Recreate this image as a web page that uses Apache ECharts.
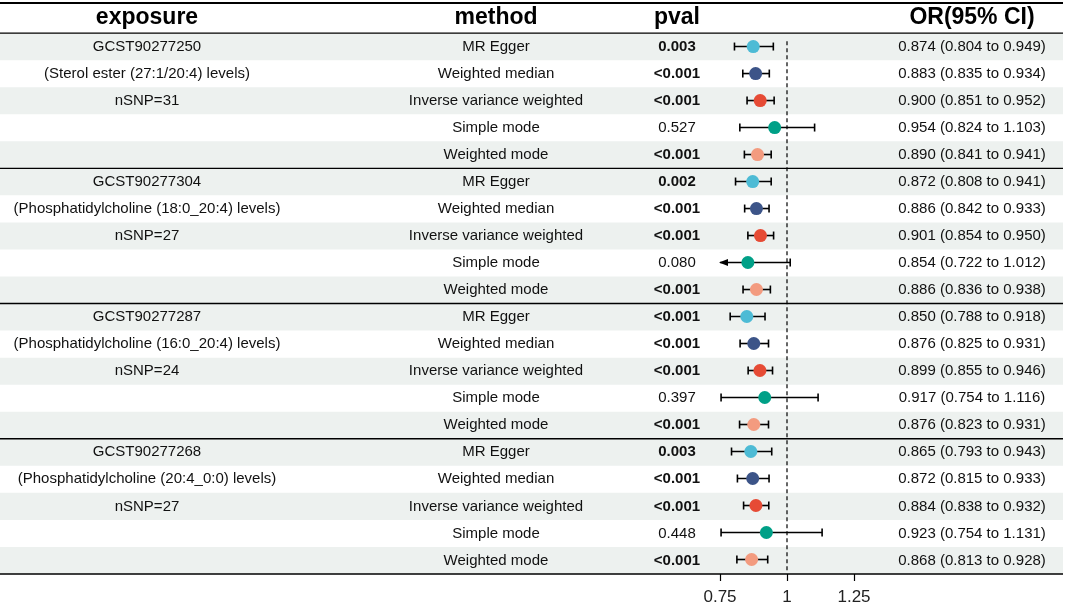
<!DOCTYPE html>
<html>
<head>
<meta charset="utf-8">
<script src="https://cdn.jsdelivr.net/npm/echarts@6/dist/echarts.min.js"></script>
<style>
  html, body { margin: 0; padding: 0; background: #fff; }
  #chart { width: 1065px; height: 606px; }
</style>
</head>
<body>
<div id="chart"></div>
<script>
// ---- data ----
var headers = ['exposure', 'method', 'pval', 'OR(95% CI)'];
var exposureIds = ['GCST90277250', 'GCST90277304', 'GCST90277287', 'GCST90277268'];
var exposureNames = [
  '(Sterol ester (27:1/20:4) levels)',
  '(Phosphatidylcholine (18:0_20:4) levels)',
  '(Phosphatidylcholine (16:0_20:4) levels)',
  '(Phosphatidylcholine (20:4_0:0) levels)'
];
var nSNP = [31, 27, 24, 27];
var methods = ['MR Egger', 'Weighted median', 'Inverse variance weighted', 'Simple mode', 'Weighted mode'];
var methodColors = ['#4DBBD5', '#3C5488', '#E64B35', '#00A087', '#F39B7F'];

var orValues = [
  0.874, 0.883, 0.900, 0.954, 0.890,
  0.872, 0.886, 0.901, 0.854, 0.886,
  0.850, 0.876, 0.899, 0.917, 0.876,
  0.865, 0.872, 0.884, 0.923, 0.868
];
var ciLower = [
  0.804, 0.835, 0.851, 0.824, 0.841,
  0.808, 0.842, 0.854, 0.722, 0.836,
  0.788, 0.825, 0.855, 0.754, 0.823,
  0.793, 0.815, 0.838, 0.754, 0.813
];
var ciUpper = [
  0.949, 0.934, 0.952, 1.103, 0.941,
  0.941, 0.933, 0.950, 1.012, 0.938,
  0.918, 0.931, 0.946, 1.116, 0.931,
  0.943, 0.933, 0.932, 1.131, 0.928
];
var pvals = [
  '0.003', '<0.001', '<0.001', '0.527', '<0.001',
  '0.002', '<0.001', '<0.001', '0.080', '<0.001',
  '<0.001', '<0.001', '<0.001', '0.397', '<0.001',
  '0.003', '<0.001', '<0.001', '0.448', '<0.001'
];
var xTicks = [0.75, 1, 1.25];

// ---- layout ----
var FONT = '"Liberation Sans", Arial, sans-serif';
var TABLE_W = 1063;
var colX = [147, 496, 677, 972];   // centres of the text columns
var headerRows = 1.15;             // header height in row units
var nRows = orValues.length;
var groupSize = methods.length;
var stripeColor = '#edf1ef';

function fmt(v) { return v.toFixed(3); }

// build table rows
var rows = [];
for (var i = 0; i < nRows; i++) {
  var g = Math.floor(i / groupSize), m = i % groupSize;
  var expo = '';
  if (m === 0) expo = exposureIds[g];
  else if (m === 1) expo = exposureNames[g];
  else if (m === 2) expo = 'nSNP=' + nSNP[g];
  var p = pvals[i];
  var sig = p.charAt(0) === '<' || parseFloat(p) < 0.05;
  rows.push({
    row: i,
    cells: [expo, methods[m], p, fmt(orValues[i]) + ' (' + fmt(ciLower[i]) + ' to ' + fmt(ciUpper[i]) + ')'],
    sig: sig
  });
}

var stripeRows = [];
for (var r = 0; r < nRows; r++) {
  if ((r % groupSize) % 2 === 0) stripeRows.push([r]);
}
var ruleRows = [];
for (var b = 0; b <= nRows; b += groupSize) ruleRows.push([b]);

var chart = echarts.init(document.getElementById('chart'));
var xMin = xTicks[0], xMax = xTicks[xTicks.length - 1];

var yAxisBase = { type: 'value', min: -headerRows, max: nRows, inverse: true, show: false };

var option = {
  animation: false,
  backgroundColor: '#fff',
  grid: [
    { left: 0, top: 2, width: TABLE_W, height: 572 },
    { left: 720, top: 2, width: 134, height: 572 }
  ],
  xAxis: [
    { gridIndex: 0, type: 'value', min: 0, max: TABLE_W, show: false },
    {
      gridIndex: 1, type: 'value', min: xMin, max: xMax, interval: 0.25,
      axisLine: { show: true, onZero: false, lineStyle: { color: '#000', width: 1.2 } },
      axisTick: { show: true, length: 8, lineStyle: { color: '#000', width: 1.2 } },
      axisLabel: {
        fontSize: 17, color: '#222', fontFamily: FONT, margin: 16,
        formatter: function (v) { return String(v); }
      },
      splitLine: { show: false }
    }
  ],
  yAxis: [
    Object.assign({ gridIndex: 0 }, yAxisBase),
    Object.assign({ gridIndex: 1 }, yAxisBase)
  ],
  series: [
    // 斑马纹背景
    {
      type: 'custom', xAxisIndex: 0, yAxisIndex: 0, z: 1, silent: true,
      data: stripeRows,
      renderItem: function (params, api) {
        var r = api.value(0);
        var p0 = api.coord([0, r]);
        var p1 = api.coord([TABLE_W, r + 1]);
        return {
          type: 'rect',
          shape: { x: p0[0], y: p0[1], width: p1[0] - p0[0], height: p1[1] - p0[1] },
          style: { fill: stripeColor }
        };
      }
    },
    // 分组横线
    {
      type: 'custom', xAxisIndex: 0, yAxisIndex: 0, z: 5, silent: true,
      data: ruleRows.concat([[-headerRows]]),
      renderItem: function (params, api) {
        var r = api.value(0);
        var p0 = api.coord([0, r]);
        var p1 = api.coord([TABLE_W, r]);
        var top = r < 0;
        return {
          type: 'line',
          shape: { x1: p0[0], y1: p0[1] + (top ? 1 : 0), x2: p1[0], y2: p1[1] + (top ? 1 : 0) },
          style: { stroke: '#000', lineWidth: top ? 2.2 : 1.4 }
        };
      }
    },
    // 表头
    {
      type: 'custom', xAxisIndex: 0, yAxisIndex: 0, z: 6, silent: true,
      data: headers.map(function (h, k) { return [k]; }),
      renderItem: function (params, api) {
        var k = api.value(0);
        var pt = api.coord([colX[k], -headerRows / 2 + 0.02]);
        return {
          type: 'text', x: pt[0], y: pt[1],
          style: {
            text: headers[k], fontSize: 23, fontWeight: 'bold', fontFamily: FONT,
            fill: '#000', align: 'center', verticalAlign: 'middle'
          }
        };
      }
    },
    // 表格文字
    {
      type: 'custom', xAxisIndex: 0, yAxisIndex: 0, z: 6, silent: true,
      data: rows.map(function (d) { return [d.row]; }),
      renderItem: function (params, api) {
        var d = rows[params.dataIndex];
        var children = d.cells.map(function (txt, k) {
          var pt = api.coord([colX[k], d.row + 0.5]);
          return {
            type: 'text', x: pt[0], y: pt[1],
            style: {
              text: txt, fontSize: 15, fontFamily: FONT,
              fontWeight: (k === 2 && d.sig) ? 'bold' : 'normal',
              fill: '#111', align: 'center', verticalAlign: 'middle'
            }
          };
        });
        return { type: 'group', children: children };
      }
    },
    // 参考虚线 OR = 1
    {
      type: 'custom', xAxisIndex: 1, yAxisIndex: 1, z: 7, silent: true, clip: false,
      data: [[1]],
      renderItem: function (params, api) {
        var a = api.coord([api.value(0), 0.3]);
        var c = api.coord([api.value(0), nRows]);
        return {
          type: 'line',
          shape: { x1: a[0], y1: a[1], x2: c[0], y2: c[1] },
          style: { stroke: '#000', lineWidth: 1.2, lineDash: [4, 3] }
        };
      }
    },
    // 置信区间
    {
      type: 'custom', xAxisIndex: 1, yAxisIndex: 1, z: 8, silent: true, clip: false,
      data: orValues.map(function (v, i) { return [i, ciLower[i], ciUpper[i]]; }),
      renderItem: function (params, api) {
        var r = api.value(0), lo = api.value(1), hi = api.value(2);
        var y = api.coord([xMin, r + 0.5])[1];
        var clipLo = lo < xMin, clipHi = hi > xMax;
        var xl = api.coord([Math.max(lo, xMin), 0])[0];
        var xh = api.coord([Math.min(hi, xMax), 0])[0];
        var st = { stroke: '#000', lineWidth: 1.6 };
        var cap = 4;
        var kids = [{ type: 'line', shape: { x1: xl, y1: y, x2: xh, y2: y }, style: st }];
        if (clipLo) {
          kids.push({ type: 'polygon', shape: { points: [[xl - 1, y], [xl + 8, y - 3.5], [xl + 8, y + 3.5]] }, style: { fill: '#000' } });
        } else {
          kids.push({ type: 'line', shape: { x1: xl, y1: y - cap, x2: xl, y2: y + cap }, style: st });
        }
        if (clipHi) {
          kids.push({ type: 'polygon', shape: { points: [[xh + 1, y], [xh - 8, y - 3.5], [xh - 8, y + 3.5]] }, style: { fill: '#000' } });
        } else {
          kids.push({ type: 'line', shape: { x1: xh, y1: y - cap, x2: xh, y2: y + cap }, style: st });
        }
        return { type: 'group', children: kids };
      }
    },
    // 点估计
    {
      type: 'scatter', xAxisIndex: 1, yAxisIndex: 1, z: 9, silent: true,
      symbolSize: 13,
      data: orValues.map(function (v, i) {
        return { value: [v, i + 0.5], itemStyle: { color: methodColors[i % groupSize], opacity: 1 } };
      })
    }
  ]
};

chart.setOption(option);
</script>
</body>
</html>
